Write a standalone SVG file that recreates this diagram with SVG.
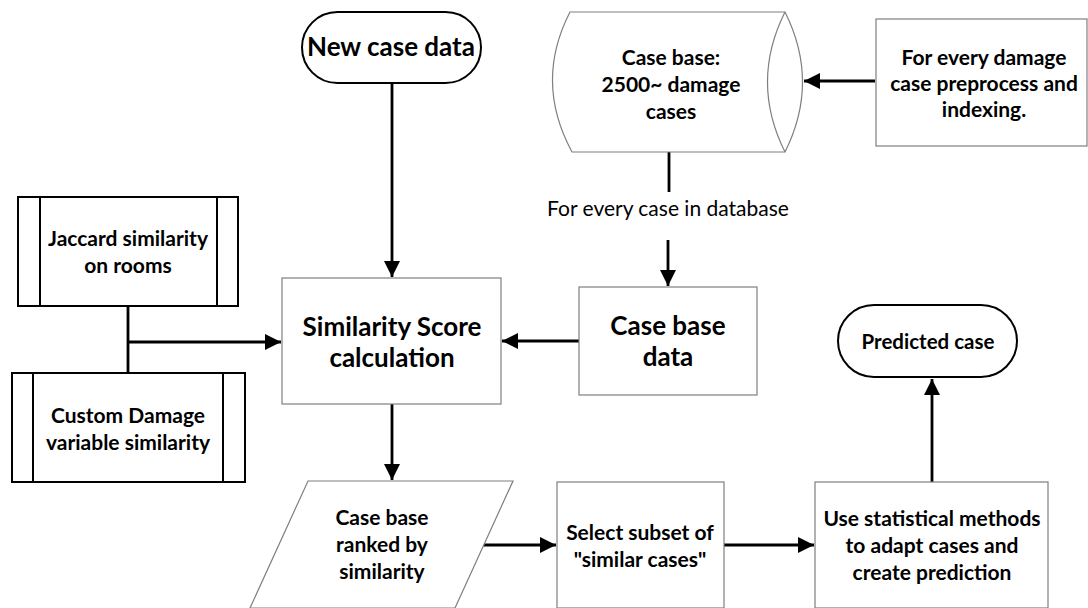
<svg xmlns="http://www.w3.org/2000/svg" width="1088" height="608" viewBox="0 0 1088 608">
<style>
.t{font-family:Lato,"Liberation Sans",sans-serif;font-weight:bold;fill:#000;text-anchor:middle}
.n{font-family:Lato,"Liberation Sans",sans-serif;fill:#000;text-anchor:middle}
.g{fill:#fff;stroke:#7f7f7f;stroke-width:1.2}
.k{fill:#fff;stroke:#000;stroke-width:2}
.c{fill:none;stroke:#000;stroke-width:2.8}
</style>
<defs>
<marker id="ah" viewBox="0 0 16 16" refX="16" refY="8" markerWidth="16" markerHeight="16" markerUnits="userSpaceOnUse" orient="auto">
<path d="M0,0 L16,8 L0,16 z" fill="#000"/>
</marker>
</defs>
<rect width="1088" height="608" fill="#fff"/>
<g id="connectors">
<path class="c" d="M392,83 V277" marker-end="url(#ah)"/>
<path class="c" d="M875,81 H804" marker-end="url(#ah)"/>
<path class="c" d="M669,152 V192"/>
<path class="c" d="M668,240 V286" marker-end="url(#ah)"/>
<path class="c" d="M128,306 V373"/>
<path class="c" d="M128,342 H281" marker-end="url(#ah)"/>
<path class="c" d="M579,341 H502" marker-end="url(#ah)"/>
<path class="c" d="M392,404 V480" marker-end="url(#ah)"/>
<path class="c" d="M483,545 H556" marker-end="url(#ah)"/>
<path class="c" d="M724,545 H814" marker-end="url(#ah)"/>
<path class="c" d="M932,482 V379" marker-end="url(#ah)"/>
</g>
<g id="new-case">
<rect class="k" x="302" y="12" width="179" height="71" rx="35.5"/>
<text class="t" x="391" y="56" font-size="26">New case data</text>
</g>
<g id="case-base-db">
<path class="g" d="M570,12 H785 Q820,82 785,152 H572 Q534,82 570,12 z"/>
<path class="g" d="M785,12 Q750,82 785,152"/>
<text class="t" x="671" y="65" font-size="21">Case base:</text>
<text class="t" x="671" y="92" font-size="21">2500~ damage</text>
<text class="t" x="671" y="119" font-size="21">cases</text>
</g>
<g id="preprocess">
<rect class="g" x="876" y="19" width="211" height="127"/>
<text class="t" x="984" y="65" font-size="21">For every damage</text>
<text class="t" x="984" y="91" font-size="21">case preprocess and</text>
<text class="t" x="984" y="117" font-size="21">indexing.</text>
</g>
<g id="for-every-label">
<text class="n" x="668" y="216" font-size="21">For every case in database</text>
</g>
<g id="jaccard">
<rect class="k" x="18" y="197" width="220" height="109"/>
<path class="k" d="M40,197 V306 M217,197 V306"/>
<text class="t" x="128" y="246" font-size="21">Jaccard similarity</text>
<text class="t" x="128" y="273" font-size="21">on rooms</text>
</g>
<g id="custom">
<rect class="k" x="12" y="373" width="233" height="109"/>
<path class="k" d="M33,373 V482 M223,373 V482"/>
<text class="t" x="128" y="423" font-size="21">Custom Damage</text>
<text class="t" x="128" y="450" font-size="21">variable similarity</text>
</g>
<g id="similarity">
<rect class="g" x="282" y="278" width="219" height="126"/>
<text class="t" x="392" y="336" font-size="26">Similarity Score</text>
<text class="t" x="392" y="367" font-size="26">calculation</text>
</g>
<g id="case-base-data">
<rect class="g" x="579" y="287" width="178" height="108"/>
<text class="t" x="668" y="335" font-size="26">Case base</text>
<text class="t" x="668" y="366" font-size="26">data</text>
</g>
<g id="predicted">
<rect class="k" x="838" y="305" width="179" height="72" rx="36"/>
<text class="t" x="928" y="349" font-size="20.5">Predicted case</text>
</g>
<g id="ranked">
<path class="g" d="M308,481 H513 L455,608 H250 z"/>
<text class="t" x="382" y="525" font-size="21">Case base</text>
<text class="t" x="382" y="552" font-size="21">ranked by</text>
<text class="t" x="382" y="579" font-size="21">similarity</text>
</g>
<g id="select">
<rect class="g" x="557" y="482" width="167" height="126"/>
<text class="t" x="640" y="540" font-size="21">Select subset of</text>
<text class="t" x="640" y="567" font-size="21">"similar cases"</text>
</g>
<g id="statistical">
<rect class="g" x="815" y="482" width="233" height="126"/>
<text class="t" x="932" y="526" font-size="21">Use statistical methods</text>
<text class="t" x="932" y="553" font-size="21">to adapt cases and</text>
<text class="t" x="932" y="580" font-size="21">create prediction</text>
</g>
</svg>
